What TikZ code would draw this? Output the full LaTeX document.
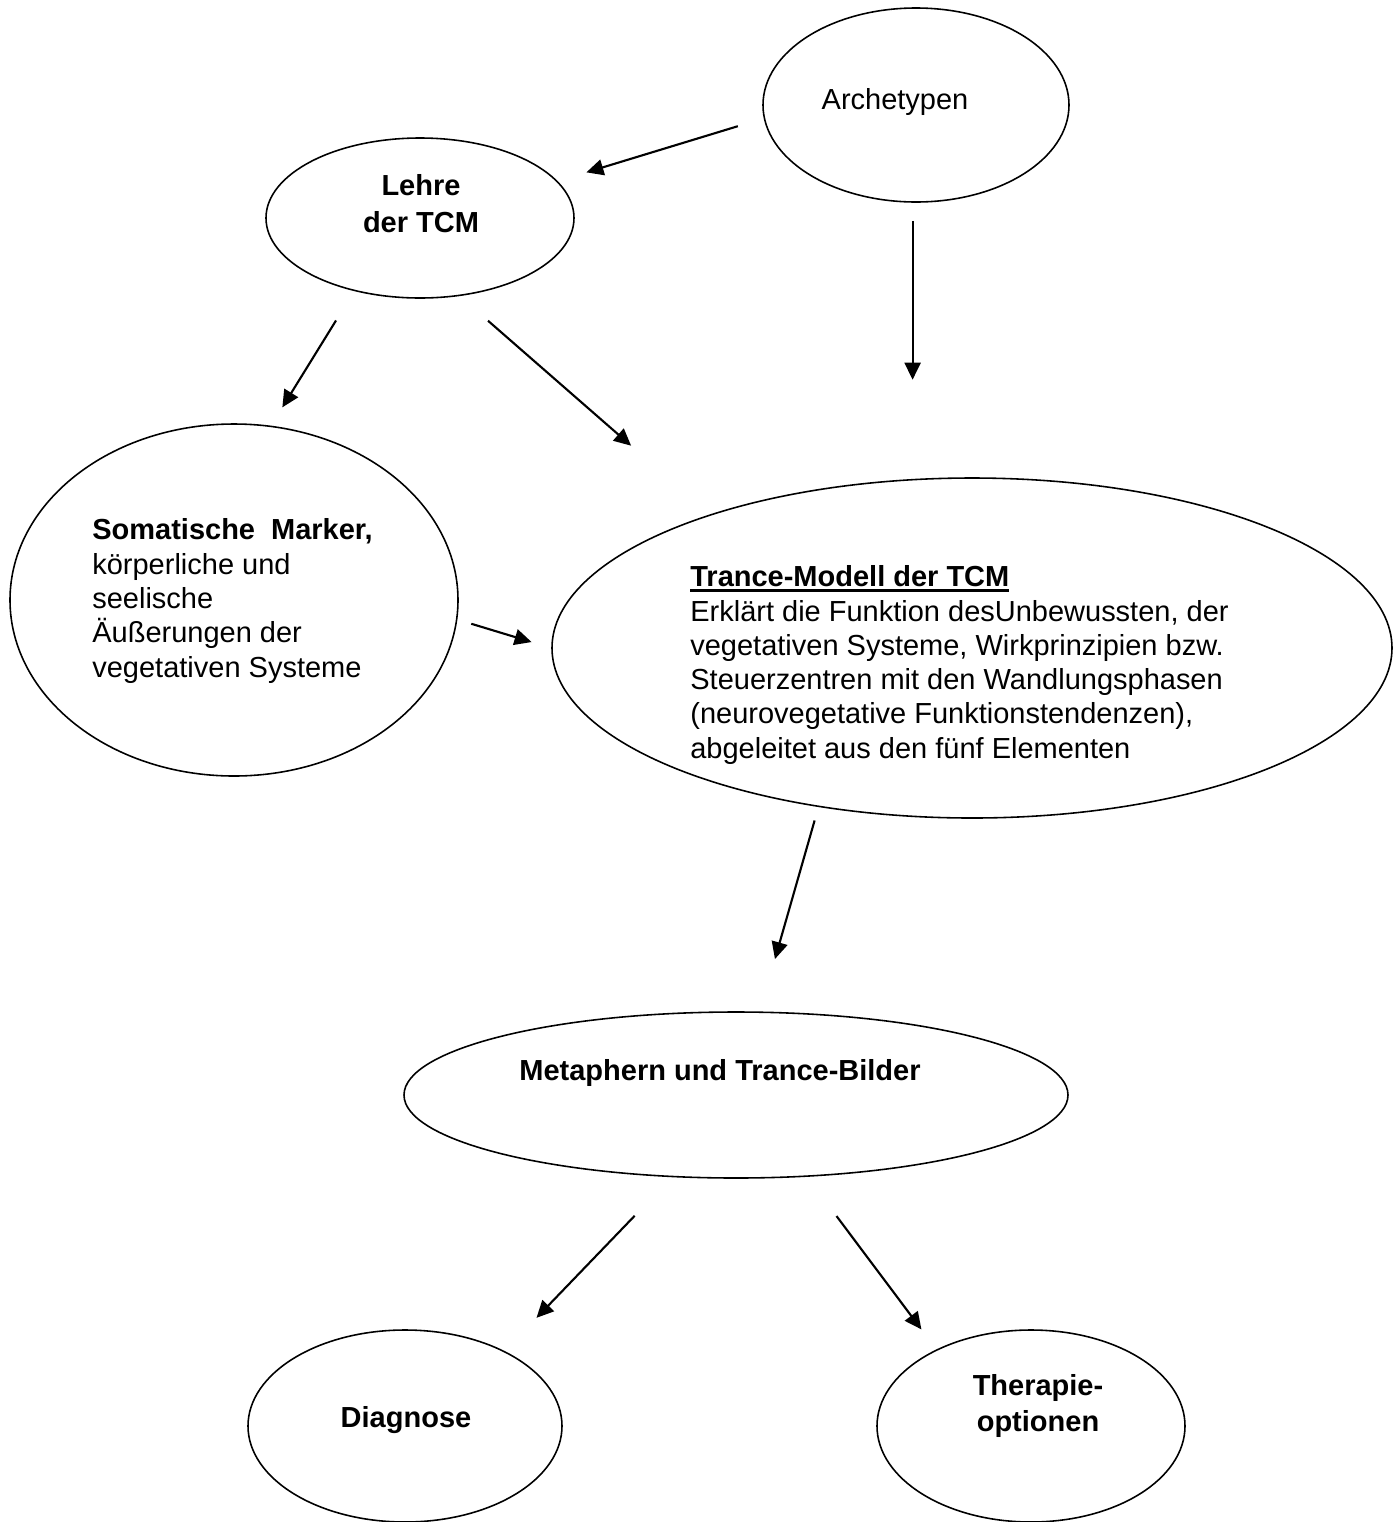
\documentclass[tikz,border=0pt]{standalone}
\usepackage{fontspec}
\setmainfont{Liberation Sans}
\usetikzlibrary{arrows.meta,shapes.geometric}
\newcommand{\thickul}[1]{\setbox0\hbox{#1}\rlap{\rule[-3pt]{\wd0}{1.6pt}}\box0}

\begin{document}
\begin{tikzpicture}[
    bubble/.style={draw, ellipse, line width=0.9pt, inner sep=0pt},
    txt/.style={inner sep=0pt, font=\fontsize{16.5}{19.5}\selectfont},
    conn/.style={-{Triangle[length=3.4mm,width=3.2mm]}, line width=1.2pt}
  ]
      \useasboundingbox (0, 0) rectangle (27.98, -30.44);
      \node[bubble, minimum width=6.12cm, minimum height=3.88cm] (arch) at (18.32, -2.10) {};
      \node[bubble, minimum width=6.16cm, minimum height=3.20cm] (lehre) at (8.40, -4.36) {};
      \node[bubble, minimum width=8.96cm, minimum height=7.04cm] (soma) at (4.68, -12.00) {};
      \node[bubble, minimum width=16.80cm, minimum height=6.80cm] (trance) at (19.44, -12.96) {};
      \node[bubble, minimum width=13.28cm, minimum height=3.32cm] (meta) at (14.72, -21.90) {};
      \node[bubble, minimum width=6.28cm, minimum height=3.84cm] (diag) at (8.10, -28.52) {};
      \node[bubble, minimum width=6.16cm, minimum height=3.84cm] (ther) at (20.62, -28.52) {};
      \node[txt] (archtxt) at (17.90, -2.04) {Archetypen};
      \node[txt, align=center, font=\fontsize{16.5}{21}\selectfont\bfseries] (lehretxt) at (8.42, -4.07) {Lehre\\der TCM};
      \node[txt, align=left, anchor=west] (somatxt) at (1.84, -12.02)
        {\textbf{Somatische\ \ Marker,}\\körperliche und\\seelische\\Äußerungen der\\vegetativen Systeme};
      \node[txt, align=left, anchor=west] (trancetxt) at (13.80, -13.30)
        {\thickul{\textbf{Trance-Modell der TCM}}\\Erklärt die Funktion desUnbewussten, der\\vegetativen Systeme, Wirkprinzipien bzw.\\Steuerzentren mit den Wandlungsphasen\\(neurovegetative Funktionstendenzen),\\abgeleitet aus den fünf Elementen};
      \node[txt, font=\fontsize{16.5}{19.5}\selectfont\bfseries] (metatxt) at (14.40, -21.46) {Metaphern und Trance-Bilder};
      \node[txt, font=\fontsize{16.5}{19.5}\selectfont\bfseries] (diagtxt) at (8.12, -28.40) {Diagnose};
      \node[txt, align=center, font=\fontsize{16.5}{20.5}\selectfont\bfseries] (thertxt) at (20.76, -28.12) {Therapie-\\optionen};
      \draw[conn, shorten <=0.54cm, shorten >=0.60cm] (arch.185) -- (lehre.15);
      \draw[conn, shorten <=0.36cm, shorten >=1.95cm] (arch.268) -- (arch.268 |- trance.north);
      \draw[conn, shorten <=0.69cm, shorten >=0.43cm] (lehre.228) -- (soma.78);
      \draw[conn, shorten <=0.75cm, shorten >=2.09cm] (lehre.297) -- (trance.153);
      \draw[conn, shorten <=0.29cm, shorten >=0.41cm] (soma.355) -- (trance.180);
      \draw[conn, shorten <=0.28cm, shorten >=1.09cm] (trance.226) -- (meta.74);
      \draw[conn, shorten <=1.07cm, shorten >=0.92cm] (meta.232) -- (diag.37);
      \draw[conn, shorten <=0.98cm, shorten >=0.50cm] (meta.311) -- (ther.141);
\end{tikzpicture}
\end{document}
